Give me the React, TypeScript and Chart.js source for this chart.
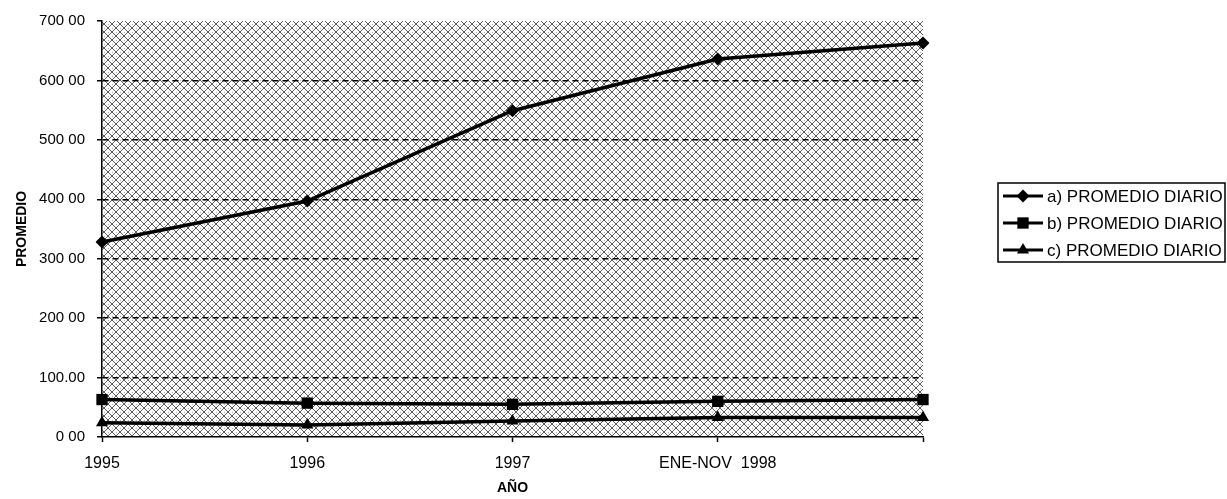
import { useEffect, useRef } from 'react';
import { Chart, registerables } from 'chart.js';

Chart.register(...registerables);

const categories = ['1995', '1996', '1997', 'ENE-NOV  1998', ''];
const seriesNames = ['a) PROMEDIO DIARIO', 'b) PROMEDIO DIARIO', 'c) PROMEDIO DIARIO'];
const seriesA = [328, 397, 549, 636, 663];
const seriesB = [63, 57, 55, 60, 63];
const seriesC = [24, 20, 27, 33, 33];
const yTickLabels = ['0 00', '100.00', '200 00', '300 00', '400 00', '500 00', '600 00', '700 00'];
const pointStyles = ['rectRot', 'rect', 'triangle'];
const pointRadii = [6.5, 8, 7];

const FONT = '"Liberation Sans", Arial, sans-serif';

function makePattern(ctx: CanvasRenderingContext2D) {
  const c = document.createElement('canvas');
  c.width = 8;
  c.height = 8;
  const g = c.getContext('2d')!;
  g.fillStyle = '#ffffff';
  g.fillRect(0, 0, 8, 8);
  g.fillStyle = '#5a5a5a';
  for (let i = 0; i < 8; i++) {
    g.fillRect(i, i, 1, 1);
    g.fillRect(7 - i, i, 1, 1);
  }
  g.fillStyle = '#b0b0b0';
  g.fillRect(4, 0, 1, 1);
  g.fillRect(0, 4, 1, 1);
  return ctx.createPattern(c, 'repeat');
}

function drawMarker(ctx: CanvasRenderingContext2D, style: string, x: number, y: number, r: number) {
  ctx.beginPath();
  if (style === 'rectRot') {
    ctx.moveTo(x, y - r);
    ctx.lineTo(x + r, y);
    ctx.lineTo(x, y + r);
    ctx.lineTo(x - r, y);
    ctx.closePath();
    ctx.fill();
  } else if (style === 'rect') {
    const s = r * Math.SQRT1_2;
    ctx.fillRect(x - s, y - s, 2 * s, 2 * s);
  } else {
    const h = r * 1.5;
    const half = r * Math.sin(Math.PI / 3);
    ctx.moveTo(x, y - r);
    ctx.lineTo(x + half, y + h - r);
    ctx.lineTo(x - half, y + h - r);
    ctx.closePath();
    ctx.fill();
  }
}

const backgroundPlugin = {
  id: 'hatchBackground',
  beforeDraw(chart: any) {
    const { ctx, chartArea } = chart;
    ctx.save();
    ctx.fillStyle = '#ffffff';
    ctx.fillRect(0, 0, chart.width, chart.height);
    const p = makePattern(ctx);
    if (p) ctx.fillStyle = p;
    ctx.fillRect(chartArea.left, chartArea.top, chartArea.right - chartArea.left, chartArea.bottom - chartArea.top);
    ctx.restore();
  },
};

const legendPlugin = {
  id: 'boxLegend',
  afterDraw(chart: any) {
    const ctx: CanvasRenderingContext2D = chart.ctx;
    const x0 = chart.chartArea.right + 75;
    const y0 = 183;
    const w = chart.width - x0 - 2;
    const h = 79;
    ctx.save();
    ctx.fillStyle = '#ffffff';
    ctx.fillRect(x0, y0, w, h);
    ctx.strokeStyle = '#000000';
    ctx.lineWidth = 1.5;
    ctx.strokeRect(x0, y0, w, h);
    chart.data.datasets.forEach((ds: any, i: number) => {
      const y = y0 + 13 + i * 27;
      ctx.strokeStyle = '#000000';
      ctx.lineWidth = 3;
      ctx.beginPath();
      ctx.moveTo(x0 + 5, y);
      ctx.lineTo(x0 + 45, y);
      ctx.stroke();
      ctx.fillStyle = '#000000';
      drawMarker(ctx, ds.pointStyle, x0 + 25, y, ds.pointRadius);
      ctx.font = '17px ' + FONT;
      ctx.textBaseline = 'middle';
      ctx.textAlign = 'left';
      ctx.fillText(ds.label, x0 + 49, y + 1);
    });
    ctx.restore();
  },
};

export default function App() {
  const ref = useRef<HTMLCanvasElement>(null);

  useEffect(() => {
    document.body.style.margin = '0';
    const canvas = ref.current!;
    const series = [seriesA, seriesB, seriesC];
    const chart = new Chart(canvas, {
      type: 'line',
      data: {
        labels: categories,
        datasets: series.map((d, i) => ({
          label: seriesNames[i],
          data: d,
          borderColor: '#000000',
          backgroundColor: '#000000',
          borderWidth: 3.5,
          pointStyle: pointStyles[i] as any,
          pointRadius: pointRadii[i],
          pointBackgroundColor: '#000000',
          pointBorderColor: '#000000',
          pointBorderWidth: 0,
          tension: 0,
          fill: false,
        })),
      },
      options: {
        responsive: false,
        animation: false,
        events: [],
        layout: { padding: { left: 0, top: 18, right: 304, bottom: 0 } },
        plugins: {
          legend: { display: false },
          tooltip: { enabled: false },
        },
        scales: {
          x: {
            type: 'category',
            offset: false,
            afterFit: (s: any) => {
              s.height = 62;
            },
            grid: {
              display: true,
              drawOnChartArea: false,
              drawTicks: true,
              tickLength: 5,
              tickColor: '#000000',
              tickWidth: 1.5,
            },
            border: { display: true, color: '#000000', width: 1.5 },
            ticks: {
              autoSkip: false,
              maxRotation: 0,
              minRotation: 0,
              color: '#000000',
              padding: 12,
              font: { family: FONT, size: 16 },
            },
            title: {
              display: true,
              text: 'AÑO',
              color: '#000000',
              font: { family: FONT, size: 14, weight: 'bold' },
              padding: { top: 0, bottom: 2 },
            },
          },
          y: {
            min: 0,
            max: 700,
            afterFit: (s: any) => {
              s.width = 102;
            },
            grid: {
              display: true,
              color: (c: any) =>
                c.tick && (c.tick.value === 0 || c.tick.value === 700) ? 'rgba(0,0,0,0)' : '#000000',
              lineWidth: 1.5,
              drawTicks: true,
              tickLength: 5,
              tickColor: '#000000',
              tickWidth: 1.5,
              tickBorderDash: [],
            },
            border: { display: true, color: '#000000', width: 1.5, dash: [6, 4] },
            ticks: {
              stepSize: 100,
              color: '#000000',
              padding: 12,
              font: { family: FONT, size: 15 },
              callback: (_v: any, i: number) => yTickLabels[i],
            },
            title: {
              display: true,
              text: 'PROMEDIO',
              color: '#000000',
              font: { family: FONT, size: 14, weight: 'bold' },
              padding: { top: 14, bottom: 0 },
            },
          },
        },
      },
      plugins: [backgroundPlugin, legendPlugin],
    } as any);
    return () => chart.destroy();
  }, []);

  return <canvas ref={ref} width={1227} height={499} style={{ display: 'block' }} />;
}
